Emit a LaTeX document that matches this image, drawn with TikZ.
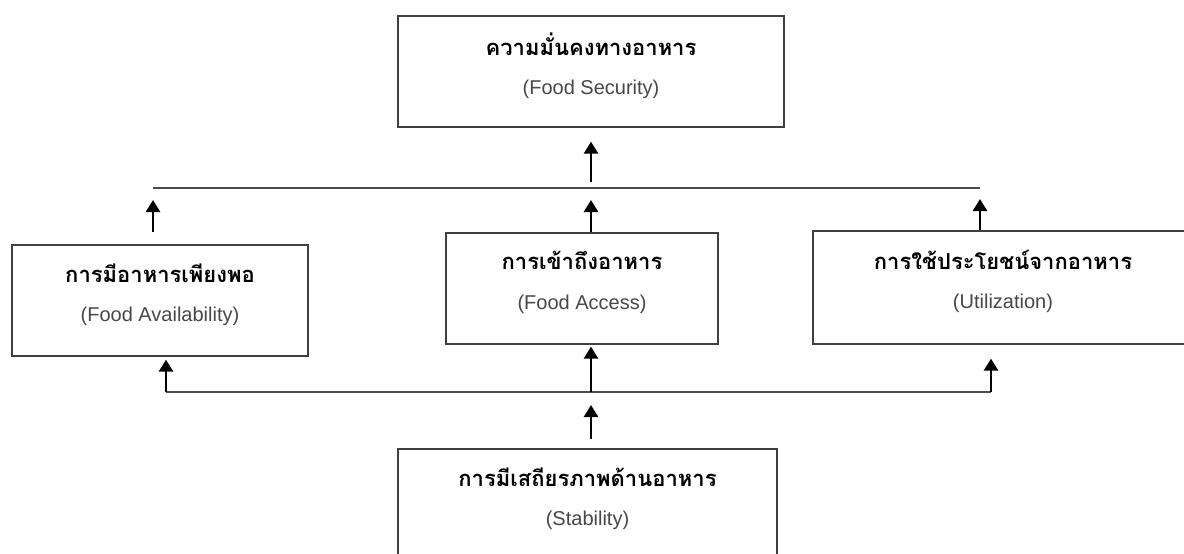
\documentclass[tikz,border=0pt]{standalone}
\usepackage{fontspec}
\setmainfont{Liberation Sans}
\newfontfamily\thaifont[Script=Thai]{Loma}
\usetikzlibrary{positioning,arrows.meta}

\newcommand{\twolines}[2]{{\thaifont\bfseries\fontsize{22}{24}\selectfont #1}\\[24pt]
    {\color{black!72}\fontsize{20}{22}\selectfont #2}}

\begin{document}
\begin{tikzpicture}[x=1pt, y=-1pt,
    blk/.style={rectangle, draw=black!75, line width=1.3pt, align=center,
        inner sep=0pt, minimum height=111pt, text depth=16pt},
    up/.style={-{Triangle[length=12pt,width=14pt]}, line width=2.6pt},
    bar/.style={draw=black!70, line width=1.5pt}
]
\useasboundingbox (0,0) rectangle (1184,554);

% boxes
\node [blk, minimum width=386pt] (secur) at (591,71.5)
    {\twolines{ความมั่นคงทางอาหาร}{(Food Security)}};
\node [blk, minimum width=296pt] (avail) at (160,300.5)
    {\twolines{การมีอาหารเพียงพอ}{(Food Availability)}};
\node [blk, minimum width=272pt] (access) at (582,288.5)
    {\twolines{การเข้าถึงอาหาร}{(Food Access)}};
\node [blk, minimum width=380pt, minimum height=113pt] (util) at (1003,287.5)
    {\twolines{การใช้ประโยชน์จากอาหาร}{(Utilization)}};
\node [blk, minimum width=379pt] (stab) at (587.5,504.5)
    {\twolines{การมีเสถียรภาพด้านอาหาร}{(Stability)}};

% upper bar
\coordinate (ul) at (153,188);
\coordinate (uc) at (591,188);
\coordinate (ur) at (980,188);
\draw [bar] (ul) -- (ur);
\draw [up, shorten <=12pt, shorten >=12pt] (avail.north -| ul) -- (ul);
\draw [up, shorten >=12pt] (access.north -| uc) -- (uc);
\draw [up, shorten >=11pt] (util.north -| ur) -- (ur);
\draw [up, shorten <=6pt, shorten >=14pt] (uc) -- (secur.south -| uc);

% lower bar
\coordinate (ll) at (166,392);
\coordinate (lc) at (591,392);
\coordinate (lr) at (991,392);
\draw [bar] (ll) -- (lr);
\draw [up, shorten >=3pt] (ll) -- (avail.south -| ll);
\draw [up, shorten >=2pt] (lc) -- (access.south -| lc);
\draw [up, shorten >=14pt] (lr) -- (util.south -| lr);
\draw [up, shorten <=9pt, shorten >=13pt] (stab.north -| lc) -- (lc);

\end{tikzpicture}
\end{document}
